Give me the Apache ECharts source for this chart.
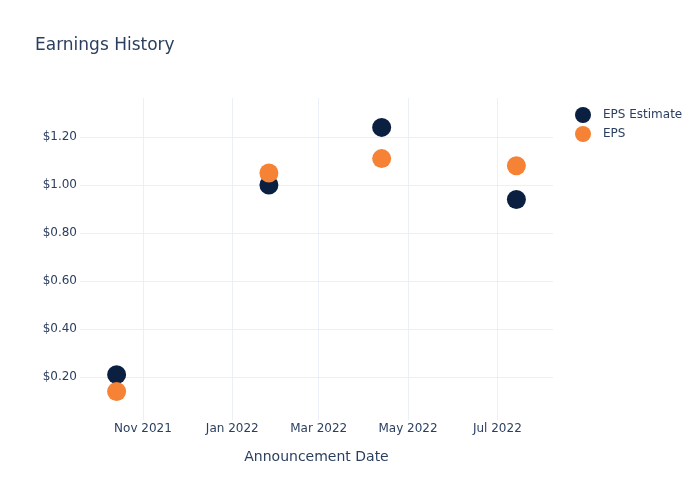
<!DOCTYPE html>
<html>
<head>
<meta charset="utf-8">
<script src="https://cdn.jsdelivr.net/npm/echarts@6/dist/echarts.min.js"></script>
<style>
  html, body { margin: 0; padding: 0; background: #fff; }
  #chart { width: 700px; height: 500px; }
</style>
</head>
<body>
<div id="chart"></div>
<script>
// announcement dates and values
var dates = ["2021-10-14", "2022-01-26", "2022-04-13", "2022-07-14"];
var epsEstimate = [0.21, 1.00, 1.24, 0.94];
var eps = [0.14, 1.05, 1.11, 1.08];
var xTicks = ["2021-11-01", "2022-01-01", "2022-03-01", "2022-05-01", "2022-07-01"];
var yTicks = [0.2, 0.4, 0.6, 0.8, 1.0, 1.2];

var monthNames = ["Jan", "Feb", "Mar", "Apr", "May", "Jun", "Jul", "Aug", "Sep", "Oct", "Nov", "Dec"];
var font = "'DejaVu Sans', verdana, arial, sans-serif";
var txt = "#2a3f5f";

function ts(s) {
  return new Date(s + "T00:00:00").getTime();
}

var myChart = echarts.init(document.getElementById("chart"));
var option = {
  animation: false,
  textStyle: { fontFamily: font, color: txt },
  title: {
    text: "Earnings History",
    left: 30,
    top: 32,
    textStyle: { fontFamily: font, fontSize: 17, fontWeight: "normal", color: txt }
  },
  legend: {
    orient: "vertical",
    left: 570,
    top: 102,
    itemWidth: 30,
    itemHeight: 16,
    itemGap: 3,
    icon: "circle",
    textStyle: { fontFamily: font, fontSize: 12, color: txt },
    data: ["EPS Estimate", "EPS"]
  },
  grid: { left: 80, right: 147, top: 98, bottom: 80 },
  // dates as plain timestamps on a value axis so ticks can sit on month starts
  xAxis: {
    type: "value",
    min: ts("2021-09-19"),
    max: ts("2022-08-08"),
    name: "Announcement Date",
    nameLocation: "middle",
    nameGap: 30,
    nameTextStyle: { fontFamily: font, fontSize: 14, color: txt },
    axisLine: { show: false },
    axisTick: { show: false, customValues: xTicks.map(ts) },
    axisLabel: {
      customValues: xTicks.map(ts),
      margin: 3,
      fontFamily: font,
      fontSize: 12,
      color: txt,
      formatter: function(v) {
        var d = new Date(v);
        return monthNames[d.getMonth()] + " " + d.getFullYear();
      }
    },
    splitLine: { show: true, lineStyle: { color: "#ebf0f8", width: 1 } }
  },
  yAxis: {
    type: "value",
    min: 0.021,
    max: 1.3625,
    axisLine: { show: false },
    axisTick: { show: false, customValues: yTicks },
    axisLabel: {
      customValues: yTicks,
      margin: 3,
      fontFamily: font,
      fontSize: 12,
      color: txt,
      formatter: function(v) {
        return "$" + v.toFixed(2);
      }
    },
    splitLine: { show: true, lineStyle: { color: "#ebf0f8", width: 1 } }
  },
  series: [
    {
      name: "EPS Estimate",
      type: "scatter",
      symbolSize: 19,
      itemStyle: { color: "#0b1f41", opacity: 1 },
      data: dates.map(function(d, i) { return [ts(d), epsEstimate[i]]; })
    },
    {
      name: "EPS",
      type: "scatter",
      symbolSize: 19,
      itemStyle: { color: "#f58235", opacity: 1 },
      data: dates.map(function(d, i) { return [ts(d), eps[i]]; })
    }
  ]
};
myChart.setOption(option);
window.addEventListener("resize", function() {
  myChart.resize();
});
</script>
</body>
</html>
